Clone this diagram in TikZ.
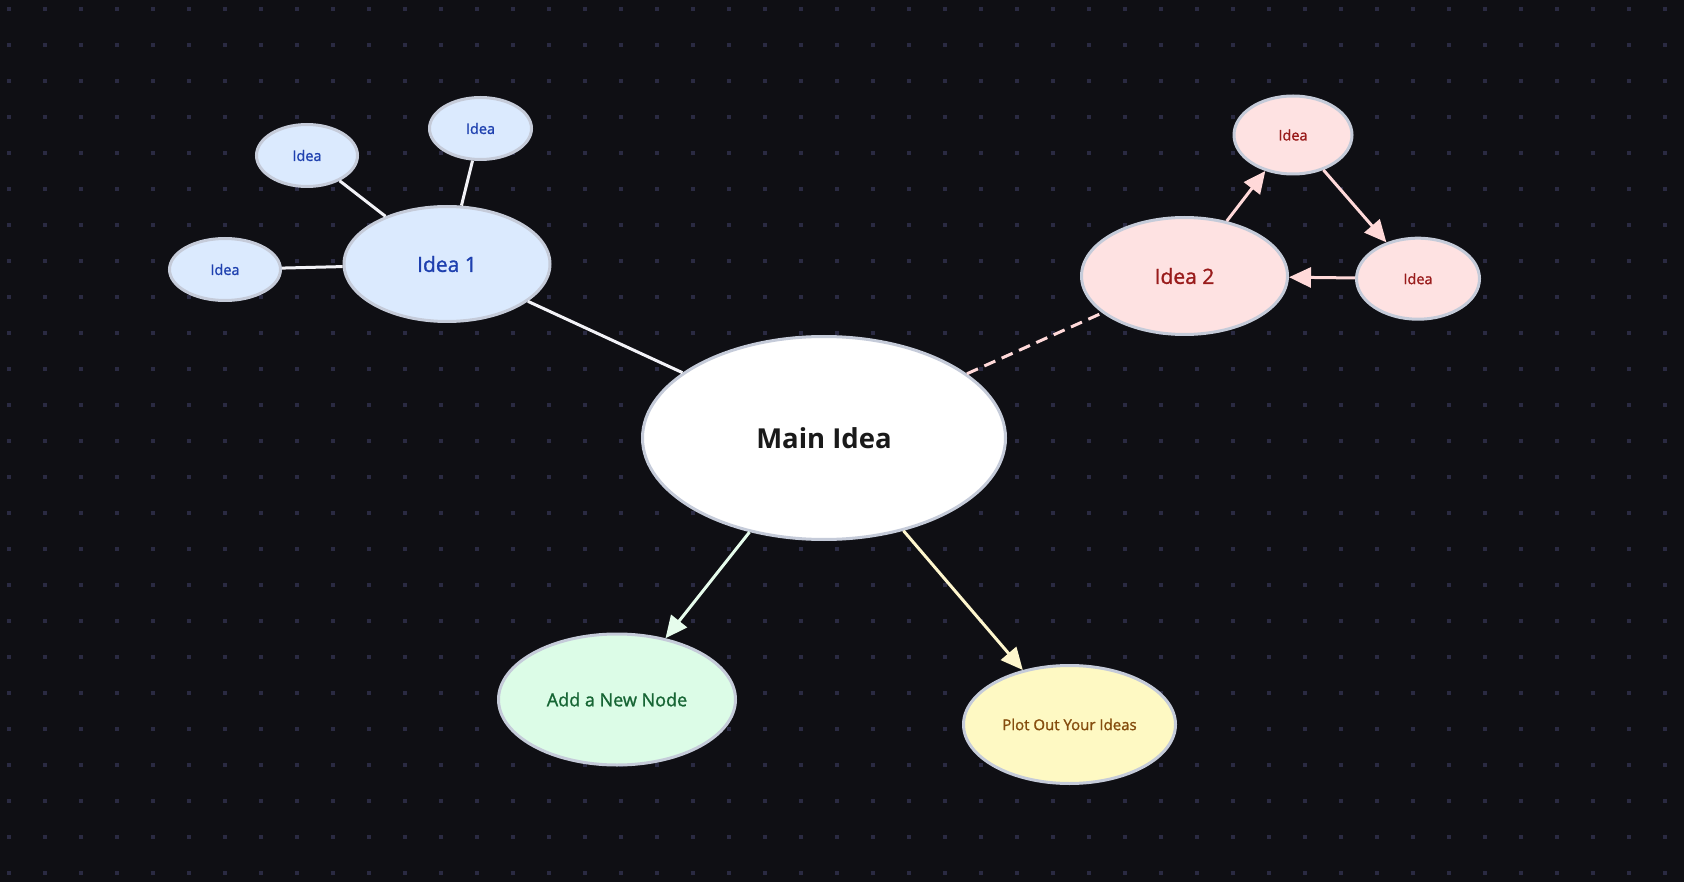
\documentclass[tikz,border=0pt]{standalone}
\usepackage{fontspec}
\setmainfont{Open Sans}
\newfontfamily\medfont[FakeBold=1.3]{Open Sans}
\usetikzlibrary{arrows.meta,shapes.geometric}
\definecolor{bg}{HTML}{0F0F14}
\definecolor{dotc}{HTML}{2A2A42}
\definecolor{bord}{HTML}{C5CBD9}
\definecolor{bluefill}{HTML}{DBEAFE}
\definecolor{bluetext}{HTML}{1E40AF}
\definecolor{redfill}{HTML}{FEE2E2}
\definecolor{redtext}{HTML}{991B1B}
\definecolor{greenfill}{HTML}{DCFCE7}
\definecolor{greentext}{HTML}{166534}
\definecolor{yellowfill}{HTML}{FEF9C3}
\definecolor{yellowtext}{HTML}{854D0E}
\definecolor{maintext}{HTML}{1A1A1A}
\definecolor{edgewhite}{HTML}{F2F2F7}
\definecolor{edgepink}{HTML}{FFD9D9}
\definecolor{edgegreen}{HTML}{E6FCEC}
\definecolor{edgeyellow}{HTML}{FEF6CD}
\tikzset{
  bubble/.style={ellipse, draw=bord, line width=3pt, inner sep=0pt},
  mainbubble/.style={bubble, fill=white, text=maintext, font=\bfseries\fontsize{27.5}{30}\selectfont},
  bluebig/.style={bubble, fill=bluefill, text=bluetext, font=\medfont\fontsize{21}{24}\selectfont},
  bluesmall/.style={bubble, fill=bluefill, text=bluetext, font=\medfont\fontsize{14.5}{17}\selectfont},
  redbig/.style={bubble, fill=redfill, text=redtext, font=\medfont\fontsize{21}{24}\selectfont},
  redsmall/.style={bubble, fill=redfill, text=redtext, font=\medfont\fontsize{14.5}{17}\selectfont},
  greenbubble/.style={bubble, fill=greenfill, text=greentext, font=\medfont\fontsize{18}{21}\selectfont},
  yellowbubble/.style={bubble, fill=yellowfill, text=yellowtext, font=\medfont\fontsize{15}{18}\selectfont},
  plainedge/.style={draw=edgewhite, line width=3pt},
  arrowedge/.style={line width=3pt, -{Triangle[length=22pt,width=20pt]}},
}
\begin{document}
\begin{tikzpicture}[x=1pt,y=-1pt]
\fill[bg] (0,0) rectangle (1684,882);
\useasboundingbox (0,0) rectangle (1684,882);
\foreach \i in {0,...,46}{
  \foreach \j in {0,...,24}{
    \fill[dotc] ({9+36*\i-2},{9+36*\j-2}) rectangle ++(4,4);
  }
}
% nodes
\node[mainbubble, minimum width=363pt, minimum height=203pt] (main) at (824,438) {Main Idea};
\node[bluebig, minimum width=206pt, minimum height=115pt] (i1) at (447,264) {Idea 1};
\node[bluesmall, minimum width=101pt, minimum height=62pt] (i1a) at (307,155.5) {Idea};
\node[bluesmall, minimum width=102pt, minimum height=62pt] (i1b) at (480.5,128.5) {Idea};
\node[bluesmall, minimum width=111pt, minimum height=62pt] (i1c) at (225,269.5) {Idea};
\node[redbig, minimum width=206pt, minimum height=117pt] (i2) at (1184.5,276) {Idea 2};
\node[redsmall, minimum width=118pt, minimum height=78pt] (i2a) at (1293,135) {Idea};
\node[redsmall, minimum width=123pt, minimum height=81pt] (i2b) at (1418,278.7) {Idea};
\node[greenbubble, minimum width=237pt, minimum height=131pt] (add) at (617,699.5) {Add a New Node};
\node[yellowbubble, minimum width=212pt, minimum height=118pt] (plot) at (1069.5,724.5) {Plot Out Your Ideas};
% edges
\draw[plainedge] (main) -- (i1);
\draw[plainedge] (i1) -- (i1a);
\draw[plainedge] (i1) -- (i1b);
\draw[plainedge] (i1) -- (i1c);
\draw[draw=edgepink, line width=3pt, dash pattern=on 12pt off 7pt] (main) -- (i2);
\draw[arrowedge, draw=edgepink, fill=edgepink] (i2) -- (i2a);
\draw[arrowedge, draw=edgepink, fill=edgepink] (i2a) -- (i2b);
\draw[arrowedge, draw=edgepink, fill=edgepink] (i2b) -- (i2);
\draw[arrowedge, draw=edgegreen, fill=edgegreen] (main) -- (add);
\draw[arrowedge, draw=edgeyellow, fill=edgeyellow] (main) -- (plot);
\end{tikzpicture}
\end{document}
